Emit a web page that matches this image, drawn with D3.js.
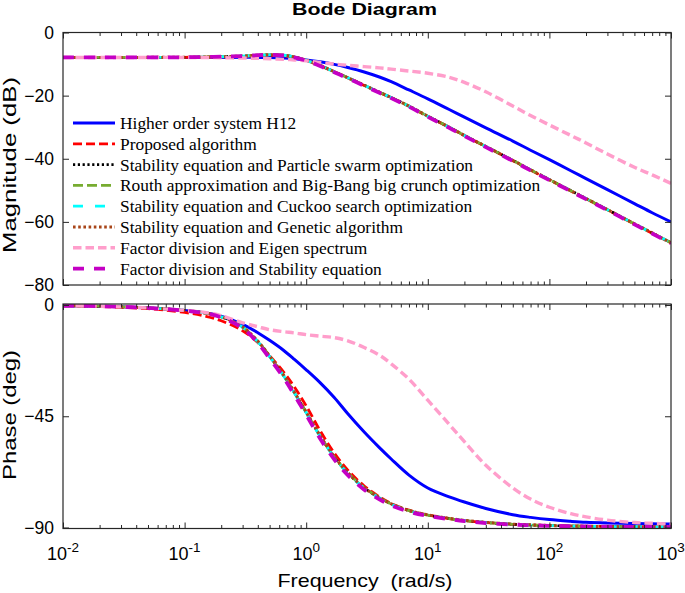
<!DOCTYPE html>
<html><head><meta charset="utf-8">
<script src="https://cdn.jsdelivr.net/npm/d3@7"></script>
<style>body{margin:0;background:#fff;} svg{display:block;}</style>
</head><body><svg id="c" width="685" height="593"></svg>
<script>
// ---------- DATA ----------
const freq = [0.01,0.02,0.05,0.1,0.15,0.2,0.3,0.4,0.5,0.65,0.8,1,1.3,1.7,2.2,3,4,5,7,10,15,20,30,50,70,100,150,200,300,500,700,1000];

const seriesNames = [
  "Higher order system H12",
  "Proposed algorithm",
  "Stability equation and Particle swarm optimization",
  "Routh approximation and Big-Bang big crunch optimization",
  "Stability equation and Cuckoo search optimization",
  "Stability equation and Genetic algorithm",
  "Factor division and Eigen spectrum",
  "Factor division and Stability equation"
];

// magnitude (dB)
const magH12      = [-7.9,-7.9,-7.9,-7.9,-7.9,-7.9,-7.88,-7.88,-7.92,-8.08,-8.3,-8.7,-9.3,-10.1,-11.1,-12.5,-14.1,-15.6,-18.2,-21.0,-24.4,-26.8,-30.2,-34.4,-37.3,-40.3,-43.8,-46.3,-49.8,-54.2,-57.1,-60.0];
const magProposed = [-7.9,-7.9,-7.88,-7.85,-7.8,-7.72,-7.55,-7.35,-7.25,-7.35,-7.85,-8.85,-10.5,-12.5,-14.4,-16.8,-19.0,-20.7,-23.4,-26.6,-30.1,-32.7,-36.2,-40.6,-43.6,-46.7,-50.2,-52.7,-56.2,-60.7,-63.6,-66.7];
const magPSO      = [-7.9,-7.9,-7.88,-7.85,-7.78,-7.68,-7.48,-7.22,-7.08,-7.2,-7.75,-8.8,-10.4,-12.4,-14.3,-16.7,-18.9,-20.6,-23.3,-26.5,-30.0,-32.6,-36.1,-40.5,-43.5,-46.6,-50.1,-52.6,-56.1,-60.6,-63.5,-66.6];
const magBBBC     = [-7.9,-7.9,-7.88,-7.85,-7.78,-7.67,-7.47,-7.21,-7.07,-7.2,-7.76,-8.82,-10.42,-12.42,-14.32,-16.72,-18.92,-20.62,-23.32,-26.52,-30.02,-32.62,-36.12,-40.52,-43.52,-46.62,-50.12,-52.62,-56.12,-60.62,-63.52,-66.62];
const magCuckoo   = [-7.9,-7.9,-7.88,-7.85,-7.78,-7.68,-7.48,-7.22,-7.08,-7.21,-7.77,-8.82,-10.43,-12.43,-14.33,-16.73,-18.93,-20.63,-23.33,-26.53,-30.03,-32.63,-36.13,-40.53,-43.53,-46.63,-50.13,-52.63,-56.13,-60.63,-63.53,-66.63];
const magGA       = [-7.9,-7.9,-7.88,-7.85,-7.78,-7.67,-7.46,-7.2,-7.06,-7.19,-7.75,-8.8,-10.41,-12.41,-14.31,-16.71,-18.91,-20.61,-23.31,-26.51,-30.01,-32.61,-36.11,-40.51,-43.51,-46.61,-50.11,-52.61,-56.11,-60.61,-63.51,-66.61];
const magEigen    = [-7.9,-7.9,-7.9,-7.9,-7.95,-8.0,-8.1,-8.2,-8.3,-8.5,-8.7,-9.0,-9.5,-10.0,-10.4,-10.8,-11.2,-11.6,-12.2,-12.9,-14.2,-15.8,-18.8,-23.3,-26.3,-29.3,-32.6,-35.0,-38.5,-42.7,-45.1,-47.8];
const magFDSE     = [-7.9,-7.9,-7.88,-7.84,-7.77,-7.66,-7.45,-7.2,-7.08,-7.25,-7.85,-8.9,-10.6,-12.6,-14.5,-16.9,-19.1,-20.8,-23.5,-26.7,-30.2,-32.8,-36.3,-40.7,-43.7,-46.8,-50.3,-52.8,-56.3,-60.8,-63.7,-66.8];

// phase (deg)
const phH12      = [-0.3,-0.5,-1.2,-2.2,-3.2,-4.5,-7.8,-11.2,-14.3,-18.3,-22,-26.2,-31.4,-37.4,-44.0,-51.4,-57.7,-62.3,-68.8,-74.0,-77.6,-79.7,-82.3,-84.8,-85.9,-86.8,-87.5,-87.9,-88.2,-88.4,-88.5,-88.6];
const phProposed = [-0.3,-0.6,-1.5,-3.0,-4.6,-6.4,-10.4,-15.2,-20.5,-27.0,-33.2,-40.8,-50.8,-59.8,-66.8,-73.2,-77.6,-80.3,-83.0,-84.9,-86.4,-87.2,-88.0,-88.7,-89.0,-89.2,-89.4,-89.5,-89.6,-89.7,-89.7,-89.8];
const phPSO      = [-0.3,-0.5,-1.2,-2.2,-3.3,-4.8,-9.0,-14.8,-20.8,-28.5,-35.5,-43.5,-53.0,-61.5,-68.0,-74.0,-78.0,-80.5,-83.2,-85.0,-86.4,-87.2,-88.0,-88.7,-89.0,-89.2,-89.4,-89.5,-89.6,-89.7,-89.7,-89.8];
const phBBBC     = [-0.3,-0.5,-1.2,-2.2,-3.3,-4.8,-8.9,-14.7,-20.7,-28.4,-35.4,-43.4,-52.9,-61.4,-67.9,-73.9,-77.9,-80.5,-83.2,-85.0,-86.4,-87.2,-88.0,-88.7,-89.0,-89.2,-89.4,-89.5,-89.6,-89.7,-89.7,-89.8];
const phCuckoo   = [-0.3,-0.5,-1.2,-2.2,-3.3,-4.8,-9.0,-14.9,-20.9,-28.6,-35.6,-43.6,-53.1,-61.6,-68.1,-74.1,-78.1,-80.6,-83.3,-85.0,-86.4,-87.2,-88.0,-88.7,-89.0,-89.2,-89.4,-89.5,-89.6,-89.7,-89.7,-89.8];
const phGA       = [-0.3,-0.5,-1.2,-2.2,-3.3,-4.7,-8.9,-14.6,-20.6,-28.3,-35.3,-43.3,-52.8,-61.3,-67.8,-73.9,-77.9,-80.4,-83.1,-84.9,-86.3,-87.1,-87.9,-88.6,-88.9,-89.2,-89.4,-89.5,-89.6,-89.7,-89.7,-89.8];
const phEigen    = [-0.3,-0.5,-1.2,-2.2,-3.1,-4.3,-7.2,-8.8,-10.0,-10.8,-11.3,-12.0,-12.6,-13.2,-14.5,-17.2,-20.3,-23.8,-30.0,-38.5,-48.3,-55.3,-64.8,-74.0,-78.5,-81.8,-84.4,-85.7,-87.0,-88.0,-88.3,-88.6];
const phFDSE     = [-0.3,-0.5,-1.2,-2.3,-3.4,-5.0,-9.4,-15.4,-21.6,-29.3,-36.4,-44.4,-54.0,-62.4,-68.8,-74.7,-78.6,-81.0,-83.6,-85.3,-86.6,-87.4,-88.2,-88.8,-89.1,-89.3,-89.5,-89.6,-89.7,-89.8,-89.8,-89.9];

const magSeries = [magH12, magProposed, magPSO, magBBBC, magCuckoo, magGA, magEigen, magFDSE];
const phSeries  = [phH12, phProposed, phPSO, phBBBC, phCuckoo, phGA, phEigen, phFDSE];

const magTicks = [0,-20,-40,-60,-80];
const phaseTicks = [0,-45,-90];
const freqTickExps = [-2,-1,0,1,2,3];

// ---------- STYLES ----------
const styles = [
  {color:"#0000FF", dash:null,     width:3.0},
  {color:"#FF0000", dash:"9,4",    width:2.8},
  {color:"#000000", dash:"2.2,2.6",width:2.6},
  {color:"#77AC30", dash:"10,4",   width:2.8},
  {color:"#00FFFF", dash:"10,12",  width:2.8},
  {color:"#A84518", dash:"2.6,2.6",width:3.0},
  {color:"#FF9ECB", dash:"8.5,4",  width:3.4},
  {color:"#C400C4", dash:"11,10",  width:3.8}
];

const svg = d3.select("#c");
const L = 63, R = 671;
const x = d3.scaleLog().domain([0.01,1000]).range([L,R]);
const yMag = d3.scaleLinear().domain([-80,0]).range([285,32.5]);
const yPh  = d3.scaleLinear().domain([-90.4,0.4]).range([528.5,304]);

const axisColor = "#262626";
const sans = "'Liberation Sans', Arial, Helvetica, sans-serif";

const majors = freqTickExps.map(e => Math.pow(10,e));
const minors = [];
for (let e=-2;e<3;e++) for (let m=2;m<=9;m++) minors.push(m*Math.pow(10,e));

function panel(yScale, yTicks, seriesList, clipId) {
  const [yb, yt] = yScale.range();
  const g = svg.append("g");
  svg.append("clipPath").attr("id",clipId).append("rect")
    .attr("x",L).attr("y",yt).attr("width",R-L).attr("height",yb-yt);
  const line = d3.line().x((d,i)=>x(freq[i])).y(d=>yScale(d)).curve(d3.curveCatmullRom.alpha(0.5));
  const lg = g.append("g").attr("clip-path",`url(#${clipId})`);
  seriesList.forEach((s,i)=>{
    const st = styles[i];
    lg.append("path").datum(s).attr("d",line)
      .attr("fill","none").attr("stroke",st.color).attr("stroke-width",st.width)
      .attr("stroke-dasharray",st.dash).attr("stroke-linejoin","round");
  });
  const mk = (ax) => ax.tickFormat("").tickSizeOuter(0);
  const ag = g.append("g");
  ag.append("g").attr("transform",`translate(0,${yb})`).call(mk(d3.axisBottom(x).tickValues(majors).tickSizeInner(-6)));
  ag.append("g").attr("transform",`translate(0,${yb})`).call(mk(d3.axisBottom(x).tickValues(minors).tickSizeInner(-3.5)));
  ag.append("g").attr("transform",`translate(0,${yt})`).call(mk(d3.axisTop(x).tickValues(majors).tickSizeInner(-6)));
  ag.append("g").attr("transform",`translate(0,${yt})`).call(mk(d3.axisTop(x).tickValues(minors).tickSizeInner(-3.5)));
  ag.append("g").attr("transform",`translate(${R},0)`).call(mk(d3.axisRight(yScale).tickValues(yTicks).tickSizeInner(-6)));
  const left = g.append("g").attr("transform",`translate(${L},0)`)
    .call(d3.axisLeft(yScale).tickValues(yTicks).tickSizeInner(-6).tickSizeOuter(0).tickPadding(9).tickFormat(d3.format("d")));
  left.selectAll("text").attr("font-family",sans).attr("font-size",17.5).attr("fill","#000");
  g.selectAll(".domain").remove();
  g.selectAll(".tick line").attr("stroke",axisColor);
  g.append("rect").attr("x",L).attr("y",yt).attr("width",R-L).attr("height",yb-yt)
    .attr("fill","none").attr("stroke",axisColor).attr("stroke-width",1.2);
  return g;
}

panel(yMag, magTicks, magSeries, "clipMag");
panel(yPh, phaseTicks, phSeries, "clipPh");

// x tick labels with superscripts
const xl = svg.append("g").attr("font-family",sans).attr("fill","#000");
majors.forEach((v,i)=>{
  const t = xl.append("text").attr("x",x(v)).attr("y",560).attr("text-anchor","middle");
  t.append("tspan").attr("font-size",18).text("10");
  t.append("tspan").attr("font-size",13.5).attr("dy",-8.5).text(String(freqTickExps[i]));
});

// titles / labels
svg.append("text").attr("x",364.5).attr("y",15).attr("text-anchor","middle")
  .attr("font-family",sans).attr("font-weight","bold").attr("font-size",17)
  .attr("textLength",145).attr("lengthAdjust","spacingAndGlyphs").text("Bode Diagram");
svg.append("text").attr("x",365).attr("y",587).attr("text-anchor","middle")
  .attr("font-family",sans).attr("font-size",18.5).attr("xml:space","preserve")
  .attr("textLength",175).attr("lengthAdjust","spacingAndGlyphs").text("Frequency  (rad/s)");
svg.append("text").attr("transform",`translate(15.5,165) rotate(-90)`)
  .attr("text-anchor","middle").attr("font-family",sans).attr("font-size",19)
  .attr("textLength",176).attr("lengthAdjust","spacingAndGlyphs").text("Magnitude (dB)");
svg.append("text").attr("transform",`translate(15.5,415) rotate(-90)`)
  .attr("text-anchor","middle").attr("font-family",sans).attr("font-size",19)
  .attr("textLength",130).attr("lengthAdjust","spacingAndGlyphs").text("Phase (deg)");

// legend
const leg = svg.append("g");
const legY0 = 123, legDy = 20.8;
seriesNames.forEach((n,i)=>{
  const y = legY0 + i*legDy, st = styles[i];
  leg.append("line").attr("x1",73).attr("x2",115).attr("y1",y).attr("y2",y)
    .attr("stroke",st.color).attr("stroke-width",st.width).attr("stroke-dasharray",st.dash);
  leg.append("text").attr("x",120).attr("y",y+6).attr("font-family","'Liberation Serif','Times New Roman',serif")
    .attr("font-size",17.4).attr("fill","#000").text(n);
});
</script></body></html>
